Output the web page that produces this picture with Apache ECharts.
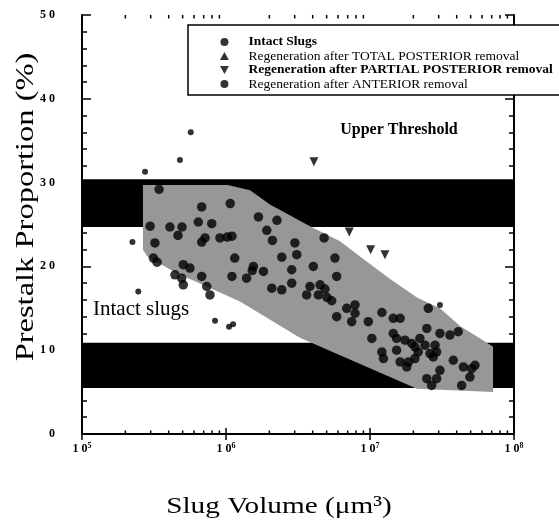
<!DOCTYPE html>
<html><head><meta charset="utf-8">
<script src="https://cdn.jsdelivr.net/npm/echarts@6/dist/echarts.min.js"></script>
<style>html,body{margin:0;padding:0;background:#fff}#c{width:559px;height:526px}</style>
</head><body><div id="c"></div>
<script>
// ---- Data ----
const intactVolume = [5.69e5, 4.79e5, 2.74e5, 2.24e5, 2.46e5, 8.39e5, 1.05e6, 1.12e6, 3.06e7];
const intactPrestalk = [36.0, 32.7, 31.3, 22.9, 17.0, 13.5, 12.8, 13.1, 15.4];

const totalPostVolume = [];
const totalPostPrestalk = [];

const partialPostVolume = [4.08e6, 7.18e6, 1.01e7, 1.27e7];
const partialPostPrestalk = [32.5, 24.1, 22.0, 21.4];

const anteriorVolume = [
  3.43e5, 6.78e5, 1.07e6, 6.42e5, 7.96e5, 2.97e5, 4.08e5, 4.95e5, 4.64e5, 7.15e5,
  6.78e5, 9.08e5, 1.02e6, 1.10e6, 3.21e5, 3.13e5, 3.32e5, 5.05e5, 5.62e5, 6.78e5,
  4.42e5, 4.92e5, 5.05e5, 7.35e5, 7.74e5, 1.68e6, 2.26e6, 1.92e6, 2.10e6, 3.01e6,
  1.15e6, 1.55e6, 1.52e6, 2.44e6, 3.10e6, 1.82e6, 1.10e6, 1.39e6, 2.86e6, 2.86e6,
  2.08e6, 2.44e6, 4.04e6, 4.80e6, 5.71e6, 5.87e6, 3.83e6, 4.50e6, 4.87e6, 3.63e6,
  4.38e6, 5.03e6, 5.42e6, 7.87e6, 6.89e6, 7.87e6, 5.87e6, 7.46e6, 9.73e6, 1.21e7,
  1.45e7, 1.62e7, 2.54e7, 1.03e7, 1.45e7, 1.53e7, 2.48e7, 1.21e7, 1.53e7, 1.95e7,
  2.22e7, 2.41e7, 2.16e7, 2.05e7, 1.85e7, 1.62e7, 2.61e7, 1.24e7, 3.06e7, 3.59e7,
  4.10e7, 1.75e7, 2.83e7, 2.90e7, 1.80e7, 2.75e7, 3.06e7, 3.79e7, 4.45e7, 5.08e7,
  5.36e7, 2.90e7, 2.48e7, 4.94e7, 4.33e7, 2.68e7, 2.05e7
];
const anteriorPrestalk = [
  29.2, 27.1, 27.5, 25.3, 25.1, 24.8, 24.7, 24.7, 23.7, 23.4,
  22.9, 23.4, 23.5, 23.6, 22.8, 21.0, 20.5, 20.2, 19.8, 18.8,
  19.0, 18.6, 17.8, 17.6, 16.6, 25.9, 25.5, 24.3, 23.1, 22.8,
  21.0, 20.0, 19.5, 21.1, 21.4, 19.4, 18.8, 18.6, 19.6, 18.0,
  17.4, 17.2, 20.0, 23.4, 21.0, 18.8, 17.6, 17.8, 17.3, 16.6,
  16.6, 16.3, 15.9, 15.4, 15.0, 14.4, 14.0, 13.4, 13.4, 14.5,
  13.8, 13.8, 15.0, 11.4, 12.0, 11.4, 12.6, 9.8, 10.0, 10.8,
  11.4, 10.6, 9.8, 9.0, 8.6, 8.6, 9.6, 9.0, 12.0, 11.8,
  12.2, 11.2, 10.6, 9.8, 8.0, 9.2, 7.6, 8.8, 8.0, 7.8,
  8.2, 6.6, 6.6, 6.8, 5.8, 5.8, 10.4
];

// shaded envelope (polygon vertices)
const shadeVolume = [2.65e5, 1.03e6, 1.47e6, 2.02e6, 3.83e6, 6.19e6, 8.94e6, 1.38e7, 2.12e7, 3.06e7,
  4.22e7, 6.09e7, 7.15e7, 7.15e7, 2.12e7, 3.26e6, 1.25e6, 4.42e5, 2.83e5, 2.65e5];
const shadePrestalk = [29.7, 29.7, 29.1, 27.4, 24.8, 23.0, 20.9, 18.5, 16.3, 15.0,
  12.9, 11.2, 10.4, 5.0, 5.4, 11.5, 15.8, 19.3, 21.2, 22.0];

// threshold bands
const bandBottom = [24.7, 5.5];
const bandTop = [30.4, 10.9];

const seriesNames = ['Intact Slugs', 'Regeneration after TOTAL POSTERIOR removal',
  'Regeneration after PARTIAL POSTERIOR removal', 'Regeneration after ANTERIOR removal'];

const yTicks = [0, 10, 20, 30, 40, 50];
const xExponents = [5, 6, 7, 8];

// ---- Chart ----
const SERIF = '"Liberation Serif", "Times New Roman", serif';
const xMin = Math.pow(10, xExponents[0]);
const xMax = Math.pow(10, xExponents[xExponents.length - 1]);
const minorTickValues = [];
for (let e = xExponents[0]; e < xExponents[xExponents.length - 1]; e++) {
  for (let m = 2; m <= 9; m++) minorTickValues.push(m * Math.pow(10, e));
}
const zip = (a, b) => a.map((v, i) => [v, b[i]]);

const chart = echarts.init(document.getElementById('c'), null, {renderer: 'canvas'});

const xAxisBase = {
  type: 'log', logBase: 10, min: xMin, max: xMax,
  axisLine: {show: true, lineStyle: {color: '#000', width: 2}},
  axisTick: {show: true, inside: true, length: 6, lineStyle: {color: '#000', width: 1.5}},
  splitLine: {show: false}
};
const yAxisBase = {
  type: 'value', min: yTicks[0], max: yTicks[yTicks.length - 1], interval: 10,
  axisLine: {show: true, lineStyle: {color: '#000', width: 2}},
  axisTick: {show: true, inside: true, length: 9, lineStyle: {color: '#000', width: 1.5}},
  minorTick: {show: true, splitNumber: 5, length: 5, lineStyle: {color: '#000', width: 1.5}},
  splitLine: {show: false}, minorSplitLine: {show: false}
};

chart.setOption({
  animation: false,
  backgroundColor: '#fff',
  grid: {left: 82, right: 45, top: 15, bottom: 92},
  xAxis: [
    Object.assign({}, xAxisBase, {
      position: 'bottom',
      axisLabel: {
        margin: 8, color: '#000',
        formatter: v => '{b|1 0}{s|' + Math.round(Math.log10(v)) + '}',
        rich: {
          b: {fontFamily: SERIF, fontWeight: 'bold', fontSize: 12, lineHeight: 14, color: '#000'},
          s: {fontFamily: SERIF, fontWeight: 'bold', fontSize: 8, lineHeight: 14, padding: [0, 0, 7, 0], color: '#000'}
        }
      }
    }),
    Object.assign({}, xAxisBase, {position: 'top', axisLabel: {show: false}})
  ],
  yAxis: [
    Object.assign({}, yAxisBase, {
      position: 'left',
      axisLabel: {
        margin: 27, color: '#000', fontFamily: SERIF, fontWeight: 'bold', fontSize: 12,
        formatter: v => String(v).split('').join(' ')
      }
    }),
    Object.assign({}, yAxisBase, {position: 'right', axisLabel: {show: false}})
  ],
  legend: {
    data: [
      {name: seriesNames[0], icon: 'circle', textStyle: {fontWeight: 'bold'}},
      {name: seriesNames[1], icon: 'path://M5,0L10,9L0,9Z'},
      {name: seriesNames[2], icon: 'path://M0,0L10,0L5,9Z', textStyle: {fontWeight: 'bold'}},
      {name: seriesNames[3], icon: 'circle'}
    ],
    orient: 'vertical', left: 188, top: 25,
    padding: [10, 40, 4, 32],
    itemGap: 0, itemWidth: 10, itemHeight: 8, symbolKeepAspect: true,
    backgroundColor: '#fff', borderColor: '#000', borderWidth: 1.5,
    textStyle: {fontFamily: SERIF, fontSize: 13.5, lineHeight: 12, color: '#000', padding: [0, 0, 0, 14]},
    selectedMode: false, z: 10
  },
  graphic: [
    {type: 'text', x: 399, y: 130, z: 20,
      style: {text: 'Upper Threshold', font: 'bold 16px ' + SERIF, fill: '#000', textAlign: 'center', textVerticalAlign: 'middle'}},
    {type: 'text', x: 93, y: 309, z: 20,
      style: {text: 'Intact slugs', font: '21px ' + SERIF, fill: '#000', textAlign: 'left', textVerticalAlign: 'middle'}},
    {type: 'text', x: 279, y: 507, scaleX: 1.22, z: 20,
      style: {text: 'Slug Volume (\u03bcm\u00b3)', font: '24px ' + SERIF, fill: '#000', textAlign: 'center', textVerticalAlign: 'middle'}},
    {type: 'text', x: 26, y: 207, rotation: Math.PI / 2, scaleX: 1.3, z: 20,
      style: {text: 'Prestalk Proportion (%)', font: '25px ' + SERIF, fill: '#000', textAlign: 'center', textVerticalAlign: 'middle'}}
  ],
  series: [
    {
      type: 'custom', name: 'bands', z: 1, silent: true,
      data: bandBottom.map((lo, i) => [xMin, lo, bandTop[i]]),
      encode: {x: 0, y: [1, 2]},
      renderItem: (params, api) => {
        const cs = params.coordSys;
        const top = api.coord([xMin, api.value(2)]);
        const bot = api.coord([xMin, api.value(1)]);
        return {type: 'rect', shape: {x: cs.x, y: top[1], width: cs.width, height: bot[1] - top[1]},
          style: {fill: '#000'}};
      }
    },
    {
      type: 'custom', name: 'envelope', z: 2, silent: true,
      data: zip(shadeVolume, shadePrestalk),
      encode: {x: 0, y: 1},
      renderItem: (params, api) => {
        if (params.dataIndex !== 0) return null;
        const pts = shadeVolume.map((v, i) => api.coord([v, shadePrestalk[i]]));
        return {type: 'polygon', shape: {points: pts}, style: {fill: '#979797'}};
      }
    },
    {
      type: 'custom', name: 'minorTicks', z: 5, silent: true,
      data: minorTickValues.map(v => [v, 0]),
      encode: {x: 0, y: 1},
      renderItem: (params, api) => {
        const v = api.value(0);
        const b = api.coord([v, yTicks[0]]);
        const t = api.coord([v, yTicks[yTicks.length - 1]]);
        const st = {stroke: '#000', lineWidth: 1.5};
        return {type: 'group', children: [
          {type: 'line', shape: {x1: b[0], y1: b[1], x2: b[0], y2: b[1] - 3.5}, style: st},
          {type: 'line', shape: {x1: t[0], y1: t[1], x2: t[0], y2: t[1] + 3.5}, style: st}
        ]};
      }
    },
    {type: 'scatter', name: seriesNames[0], data: zip(intactVolume, intactPrestalk),
      symbol: 'circle', symbolSize: 6, itemStyle: {color: '#000'}, z: 4},
    {type: 'scatter', name: seriesNames[1], data: zip(totalPostVolume, totalPostPrestalk),
      symbol: 'triangle', symbolSize: 6, itemStyle: {color: '#000'}, z: 4},
    {type: 'scatter', name: seriesNames[2], data: zip(partialPostVolume, partialPostPrestalk),
      symbol: 'triangle', symbolRotate: 180, symbolSize: 9, itemStyle: {color: '#000'}, z: 4},
    {type: 'scatter', name: seriesNames[3], data: zip(anteriorVolume, anteriorPrestalk),
      symbol: 'circle', symbolSize: 9.5, itemStyle: {color: '#000'}, z: 4}
  ]
});
</script></body></html>
